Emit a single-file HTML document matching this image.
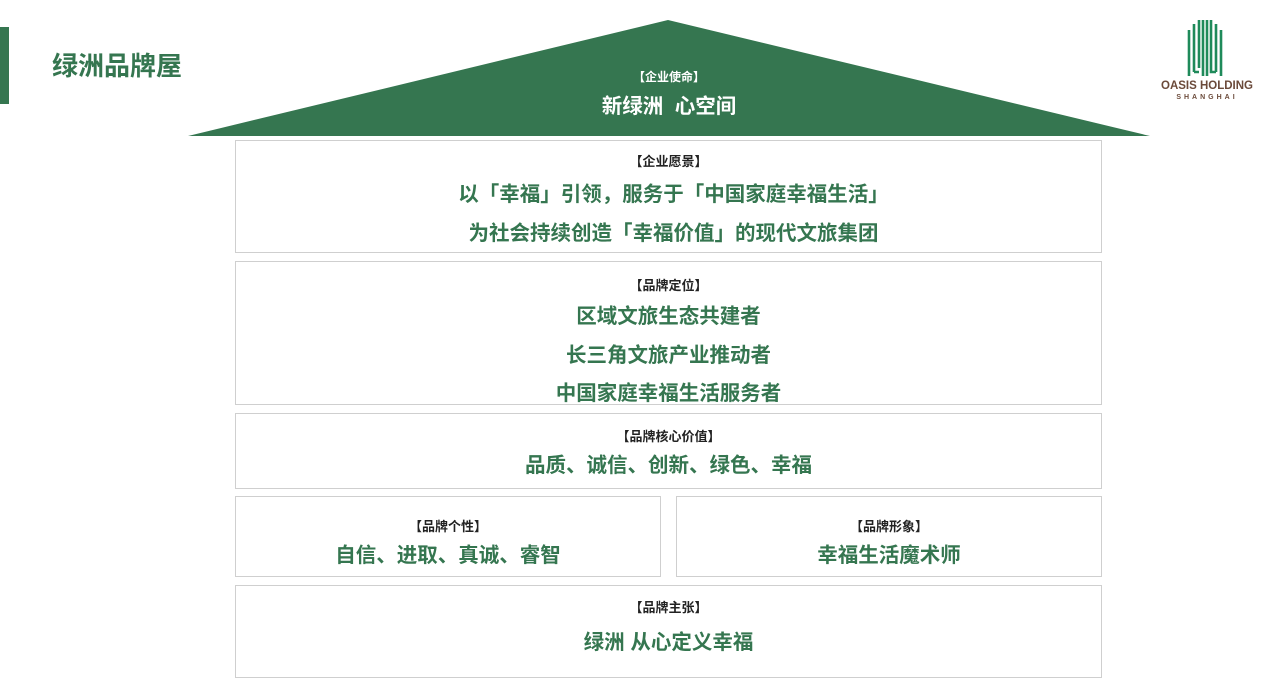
<!DOCTYPE html>
<html><head><meta charset="utf-8"><style>
*{margin:0;padding:0;box-sizing:border-box}
body{width:1277px;height:687px;background:#fff;position:relative;overflow:hidden;font-family:"Liberation Sans","Noto Sans CJK SC",sans-serif}
.box{position:absolute;border:1px solid #cfcfcf;background:#fff}
.t{position:absolute;left:0;right:0;text-align:center;white-space:nowrap}
.l{font-size:13px;line-height:13px;font-weight:bold;color:#222}
.m{font-size:20.5px;line-height:21px;font-weight:bold;color:#357650}
</style></head><body>
<div style="position:absolute;left:0;top:27px;width:9px;height:77px;background:#357650"></div>
<div style="position:absolute;left:52px;top:53px;font-size:26px;line-height:27px;font-weight:bold;color:#357650">绿洲品牌屋</div>
<svg style="position:absolute;left:0;top:0" width="1277" height="140"><polygon points="188,136 668,20 1150,136" fill="#357650"/></svg>
<div class="t l" style="top:71px;left:188px;width:962px;color:#fff;font-size:12px">【企业使命】</div>
<div class="t m" style="top:96px;left:188px;width:962px;color:#fff">新绿洲&nbsp;&nbsp;心空间</div>
<svg style="position:absolute;left:1185px;top:18px" width="40" height="60" viewBox="0 0 40 60">
<g stroke="#1f8a5a" stroke-width="2.6" fill="none">
<path d="M4 12V58M9 6V54M14 2V50M18 2V58M22 2V58M26 2V50M31 6V54M36 12V58"/>
<path d="M9 54h5M26 50v4h5"/></g></svg>
<div style="position:absolute;left:1161px;top:80px;width:92px;text-align:center;font-size:11.5px;font-weight:bold;color:#6b4a3a">OASIS HOLDING</div>
<div style="position:absolute;left:1161px;top:94px;width:92px;text-align:center;font-size:7px;font-weight:bold;color:#6b4a3a;letter-spacing:3px">SHANGHAI</div>

<div class="box" style="left:235px;top:140px;width:867px;height:113px">
<div class="t l" style="top:14px">【企业愿景】</div>
<div class="t m" style="top:43px;padding-left:10px">以「幸福」引领，服务于「中国家庭幸福生活」</div>
<div class="t m" style="top:82px;padding-left:10px">为社会持续创造「幸福价值」的现代文旅集团</div>
</div>
<div class="box" style="left:235px;top:261px;width:867px;height:144px">
<div class="t l" style="top:17px">【品牌定位】</div>
<div class="t m" style="top:44px">区域文旅生态共建者</div>
<div class="t m" style="top:83px">长三角文旅产业推动者</div>
<div class="t m" style="top:121px">中国家庭幸福生活服务者</div>
</div>
<div class="box" style="left:235px;top:413px;width:867px;height:76px">
<div class="t l" style="top:16px">【品牌核心价值】</div>
<div class="t m" style="top:41px">品质、诚信、创新、绿色、幸福</div>
</div>
<div class="box" style="left:235px;top:496px;width:426px;height:81px">
<div class="t l" style="top:23px">【品牌个性】</div>
<div class="t m" style="top:48px">自信、进取、真诚、睿智</div>
</div>
<div class="box" style="left:676px;top:496px;width:426px;height:81px">
<div class="t l" style="top:23px">【品牌形象】</div>
<div class="t m" style="top:48px">幸福生活魔术师</div>
</div>
<div class="box" style="left:235px;top:585px;width:867px;height:93px">
<div class="t l" style="top:15px">【品牌主张】</div>
<div class="t m" style="top:46px">绿洲 从心定义幸福</div>
</div>
</body></html>
